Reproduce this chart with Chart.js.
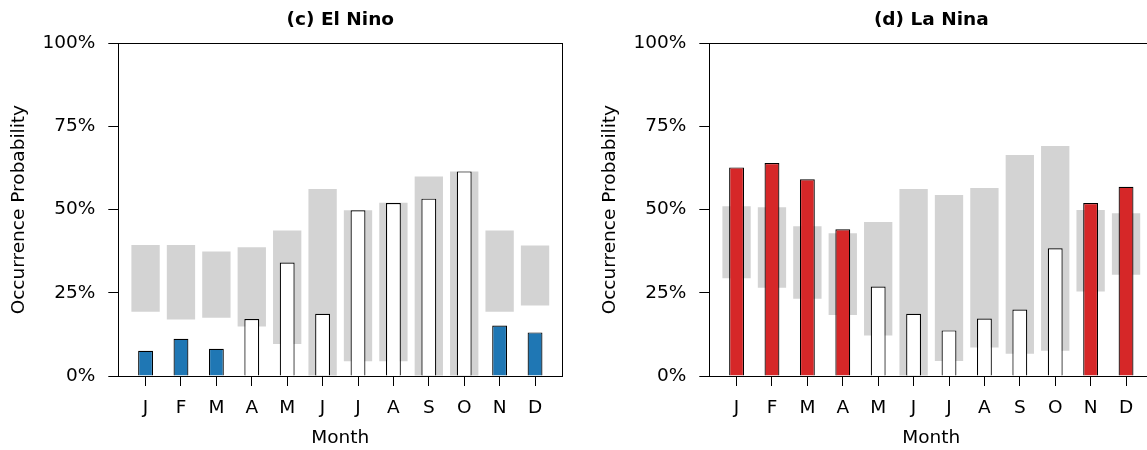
<!DOCTYPE html>
<html>
<head>
<meta charset="utf-8">
<script src="https://cdn.jsdelivr.net/npm/chart.js@4.4.0/dist/chart.umd.min.js"></script>
<style>
    html, body { margin: 0; padding: 0; background: #fff; }
    #wrap { position: relative; width: 1147px; height: 450px; overflow: hidden; }
    .panel { position: absolute; top: 0; width: 580px; height: 450px; }
</style>
</head>
<body>
<div id="wrap">
    <div class="panel" style="left:0px"><canvas id="ninoChart" width="580" height="450"></canvas></div>
    <div class="panel" style="left:591px"><canvas id="ninaChart" width="580" height="450"></canvas></div>
</div>
<script>
// Months and y ticks
const months = ['J', 'F', 'M', 'A', 'M', 'J', 'J', 'A', 'S', 'O', 'N', 'D'];
const yTicks = [0, 25, 50, 75, 100];

// (c) El Nino: occurrence probability (%) and grey range (low/high)
const ninoProb = [7.6, 11.2, 8.2, 17.1, 34.1, 18.7, 49.8, 52.0, 53.3, 61.5, 15.2, 13.1];
const ninoLow = [19.3, 17.0, 17.5, 14.9, 9.6, 0, 4.4, 4.4, 0, 0, 19.3, 21.2];
const ninoHigh = [39.4, 39.4, 37.4, 38.7, 43.7, 56.2, 49.8, 52.1, 60.0, 61.5, 43.7, 39.2];
const ninoFilled = [true, true, true, false, false, false, false, false, false, false, true, true];

// (d) La Nina
const ninaProb = [62.7, 64.0, 59.1, 44.1, 26.9, 18.7, 13.7, 17.3, 20.0, 38.4, 52.0, 56.9];
const ninaLow = [29.4, 26.5, 23.2, 18.3, 12.2, 0, 4.5, 8.6, 6.7, 7.6, 25.4, 30.4];
const ninaHigh = [51.0, 50.7, 45.0, 42.9, 46.3, 56.2, 54.4, 56.5, 66.4, 69.1, 49.9, 48.9];
const ninaFilled = [true, true, true, true, false, false, false, false, false, false, true, true];

// Color scheme
const colors = {
    blue: '#1f77b4',
    red: '#d62728',
    grey: '#d3d3d3',
    ink: '#000000'
};

// x range a bit wider than the bars, like the original axes
const xMin = -0.77;
const xMax = 11.77;
const fontSize = 18.5;

Chart.defaults.font.family = "'DejaVu Sans', sans-serif";
Chart.defaults.color = colors.ink;

function buildPanel(canvasId, title, probs, lows, highs, filled, fillColor) {
    const ctx = document.getElementById(canvasId).getContext('2d');
    return new Chart(ctx, {
        type: 'bar',
        data: {
            datasets: [{
                label: 'Probability',
                data: probs.map((v, i) => ({ x: i, y: v })),
                backgroundColor: filled.map(f => f ? fillColor : '#ffffff'),
                borderColor: colors.ink,
                borderWidth: 1.2,
                barPercentage: 0.42,
                categoryPercentage: 1,
                grouped: false,
                order: 0
            }, {
                label: 'Range',
                data: lows.map((v, i) => ({ x: i, y: [v, highs[i]] })),
                backgroundColor: colors.grey,
                borderWidth: 0,
                barPercentage: 0.8,
                categoryPercentage: 1,
                grouped: false,
                order: 1
            }]
        },
        options: {
            responsive: false,
            animation: false,
            layout: { padding: { left: 0, right: 17.7, top: 0, bottom: 0 } },
            plugins: {
                legend: { display: false },
                tooltip: { enabled: false },
                title: { display: false }
            },
            scales: {
                x: {
                    type: 'linear',
                    min: xMin,
                    max: xMax,
                    offset: false,
                    grid: { drawOnChartArea: false, drawTicks: true, tickLength: 10, color: colors.ink, offset: false },
                    border: { display: true, color: colors.ink, width: 1 },
                    afterBuildTicks: (scale) => { scale.ticks = months.map((m, i) => ({ value: i })); },
                    ticks: {
                        autoSkip: false,
                        maxRotation: 0,
                        padding: 11,
                        font: { size: fontSize },
                        callback: (v) => months[v]
                    },
                    title: { display: true, text: 'Month', font: { size: fontSize }, padding: { top: 7.6, bottom: 1 } },
                    afterFit: (scale) => { scale.height = 74; }
                },
                y: {
                    min: 0,
                    max: 100,
                    grid: { drawOnChartArea: false, tickLength: 10, color: colors.ink },
                    border: { display: true, color: colors.ink, width: 1 },
                    afterBuildTicks: (scale) => { scale.ticks = yTicks.map(v => ({ value: v })); },
                    ticks: { padding: 13, font: { size: fontSize }, callback: (v) => v + '%' },
                    title: { display: true, text: 'Occurrence Probability', font: { size: fontSize }, padding: { top: 8, bottom: 0 } },
                    afterFit: (scale) => { scale.width = 118.3; }
                },
                // top axis only carries the title and the top spine
                xTop: {
                    type: 'linear',
                    position: 'top',
                    min: xMin,
                    max: xMax,
                    grid: { display: false, drawTicks: false },
                    ticks: { display: false },
                    border: { display: true, color: colors.ink, width: 1 },
                    title: { display: true, text: title, font: { size: fontSize, weight: 'bold' }, padding: { top: 9.3, bottom: 12 } },
                    afterFit: (scale) => { scale.height = 43.3; }
                },
                // right spine
                yRight: {
                    type: 'linear',
                    position: 'right',
                    min: 0,
                    max: 100,
                    grid: { display: false, drawTicks: false },
                    ticks: { display: false },
                    border: { display: true, color: colors.ink, width: 1 },
                    afterFit: (scale) => { scale.width = 0; }
                }
            }
        }
    });
}

buildPanel('ninoChart', '(c) El Nino', ninoProb, ninoLow, ninoHigh, ninoFilled, colors.blue);
buildPanel('ninaChart', '(d) La Nina', ninaProb, ninaLow, ninaHigh, ninaFilled, colors.red);
</script>
</body>
</html>
